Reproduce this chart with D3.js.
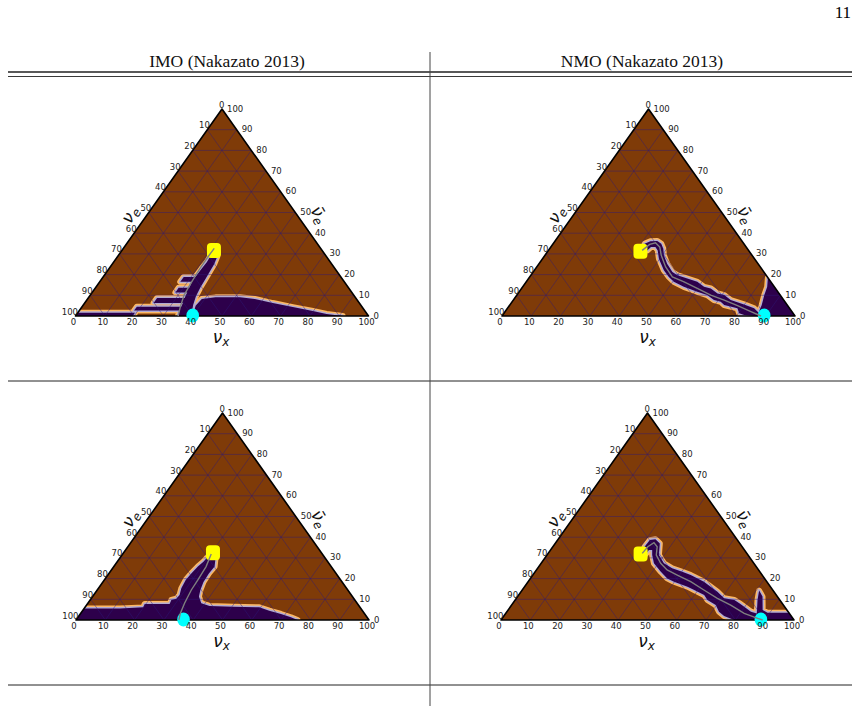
<!DOCTYPE html>
<html>
<head>
<meta charset="utf-8">
<script src="https://cdn.jsdelivr.net/npm/d3@7"></script>
<style>
body { margin: 0; background: #fff; }
</style>
</head>
<body>
<svg id="fig" width="863" height="713"></svg>
<script>
// ternary points are [nu_x, nubar_e] in percent (nu_e = 100 - both)
const ticks = [0, 10, 20, 30, 40, 50, 60, 70, 80, 90, 100]
const gridSteps = [10, 20, 30, 40, 50, 60, 70, 80, 90]
const columnTitles = ["IMO (Nakazato 2013)", "NMO (Nakazato 2013)"]
const pageNumber = "11"

// top left: IMO
const imoTopTrack = [[31, 32.7], [30.9, 27.9], [31, 23.1], [31.4, 16.8], [32, 10.1], [33.6, 4.3], [35, 0]]
const imoTopStart = [31.4, 31.7]
const imoTopEnd = [40, 0]
const imoTopRegions = [
    [[31.5, 30], [31.8, 26], [31.6, 22.6], [31.5, 19.2], [31.6, 15.9], [32.2, 12.5], [32.8, 9.1], [33.6, 5.8], [34.2, 2.9], [35, 0],
     [39.5, 0], [37.5, 5.3], [36.3, 9.6], [35.7, 13.9], [35.4, 17.8], [35.1, 21.6], [34.8, 25], [34, 28.8], [33, 31]],
    [[27.5, 16.5], [33.5, 16.5], [33.5, 18.9], [27.5, 18.9]],
    [[28.4, 11.4], [35.3, 11.4], [35.3, 13.6], [28.4, 13.6]],
    [[23.5, 6.3], [36.4, 6.3], [36.4, 8.7], [23.5, 8.7]],
    [[18.7, 2.6], [36.4, 2.6], [36.4, 4.5], [18.7, 4.5]],
    [[0, 0], [19.5, 0], [19.5, 1.6], [0, 1.6]],
    [[40, 0], [38.5, 5], [39, 8.2], [43.3, 9], [51.6, 9.1], [57.1, 8.2], [64.2, 6.25], [72, 4.3], [79.8, 2.4], [85.2, 1], [91.2, 0]]
]

// top right: NMO
const nmoTopTrack = [[32, 31.7], [33.1, 34.6], [34.7, 35.4], [37.2, 33.3], [39.7, 29.3], [44, 23.7], [48.7, 18.9], [53.9, 16.5],
    [60, 13.3], [66.2, 10.1], [72, 7.7], [77.9, 5], [83.9, 2.1], [88.4, 0]]
const nmoTopStart = [31.6, 31.3]
const nmoTopEnd = [89.5, 0]
const nmoTopRegions = [
    [[31.2, 34.9], [32.6, 36.1], [34.9, 36.2], [36.9, 34.9], [38.8, 32.5], [40.6, 29.3], [43.7, 25.3], [47.5, 21.3], [50, 19.7],
     [54.2, 18.1], [58.4, 16.5], [61.9, 14.1], [64.6, 13.3], [68.1, 10.9], [70.8, 10.1], [74.2, 7.7], [79.8, 5.6], [84.2, 3.7],
     [86.2, 2.1], [88.6, 0], [86.1, 0], [82.4, 0.5], [80.3, 1.3], [78.5, 3.7], [73.2, 5.3], [71.2, 6.9], [68.5, 7.7], [65, 10.1],
     [60.8, 11.7], [55, 14.1], [50.4, 16.5], [47.5, 18.9], [44.2, 22.1], [39.7, 27.7], [37.3, 31.7], [35.7, 33.3], [34.2, 33.3],
     [33.7, 31.7], [32.2, 32.9]],
    [[81.5, 18.5], [83.5, 14], [84.5, 10], [86, 5.3], [86.7, 2], [87.5, 0], [100, 0]]
]

// bottom left: IMO
const imoBotTrack = [[30.2, 31.9], [31.5, 25.8], [31.9, 19.3], [32.1, 14.5], [33, 8.1], [34, 3.2], [35.1, 0]]
const imoBotStart = [30.5, 32.5]
const imoBotEnd = [36.7, 0]
const imoBotRegions = [
    [[29.7, 30.6], [32.5, 30.3], [34.4, 25.8], [34.1, 22.5], [34.3, 18.4], [35.2, 14.5], [36.3, 11.3], [38.7, 8.1], [42.2, 6.8],
     [50.3, 6.4], [59.5, 6.1], [63.7, 4.5], [68.5, 2.9], [72.7, 1.3], [75.6, 0], [0, 0], [0, 5.6], [12.2, 5.6], [19.9, 6.1],
     [19.6, 7.7], [28.1, 7.7], [27.7, 9.7], [29.1, 10.3], [29.3, 12.1], [28.3, 15.3], [27.8, 19.3], [28.1, 22.5], [28.7, 25.8],
     [29.4, 28.2]]
]

// bottom right: NMO
const nmoBotTrack = [[32.1, 32.2], [32.4, 35.4], [33.5, 37.4], [35.6, 35.4], [37.3, 31.4], [40.8, 27.4], [44.6, 24.2], [49.3, 21.7],
    [55.5, 18.5], [62, 14.5], [68.6, 10.5], [74.8, 7.2], [81.4, 3.2], [87.2, 0.8], [89.3, 0]]
const nmoBotStart = [31.7, 31.9]
const nmoBotEnd = [88.7, 0]
const nmoBotRegions = [
    [[31.3, 35.4], [31.5, 38.6], [33.2, 39], [35.7, 37], [38.2, 31.4], [41.9, 27.4], [45.9, 25], [50.2, 23.3], [53.9, 21.7],
     [60, 18.5], [63.5, 16.1], [67, 13.7], [70.9, 10.5], [74.8, 9.7], [77.3, 8.1], [79.8, 6.4], [83.3, 4], [85.7, 3.2],
     [82.7, 9.7], [81, 14.2], [83.6, 11.3], [86.9, 4.8], [89.2, 3.5], [96.5, 3.5], [100, 0],
     [79.6, 0], [75.2, 1.9], [72.4, 4], [69.7, 7.2], [65.6, 9.7], [63.3, 12.1], [58.7, 14.5], [55.6, 16.1], [49.8, 18.5],
     [46.7, 20.1], [42.9, 23.3], [38.5, 27.4], [35.9, 31.4], [34.7, 33.8], [33.6, 33.8], [33.4, 31.9]]
]

const BROWN = "#7f3b08"
const PURPLE = "#2d004b"
const PEACH = "#fdb863"
const LAVENDER = "#b2abd2"
const W = 293, H = 207

const panels = [
    { x0: 75.5, base: 316, regions: imoTopRegions, track: imoTopTrack, start: imoTopStart, end: imoTopEnd },
    { x0: 502, base: 316, regions: nmoTopRegions, track: nmoTopTrack, start: nmoTopStart, end: nmoTopEnd },
    { x0: 76, base: 620, regions: imoBotRegions, track: imoBotTrack, start: imoBotStart, end: imoBotEnd },
    { x0: 501, base: 620, regions: nmoBotRegions, track: nmoBotTrack, start: nmoBotStart, end: nmoBotEnd },
]

const svg = d3.select("#fig")

function drawPage() {
    svg.append("text")
        .attr("x", 851).attr("y", 18)
        .attr("text-anchor", "end")
        .attr("font-family", "Liberation Serif")
        .attr("font-size", 17)
        .text(pageNumber)

    svg.selectAll(".ctitle")
        .data(columnTitles)
        .enter()
        .append("text")
        .attr("x", (d, i) => i == 0 ? 227 : 642)
        .attr("y", 67)
        .attr("text-anchor", "middle")
        .attr("font-family", "Liberation Serif")
        .attr("font-size", 17.5)
        .attr("fill", "#111")
        .text(d => d)

    let rules = [[72, 1.4], [76.5, 0.9], [381, 1], [685, 1]]
    rules.forEach(r => {
        svg.append("line")
            .attr("x1", 8).attr("x2", 852)
            .attr("y1", r[0]).attr("y2", r[0])
            .attr("stroke", "#222").attr("stroke-width", r[1])
    })
    svg.append("line")
        .attr("x1", 430).attr("x2", 430)
        .attr("y1", 52).attr("y2", 706)
        .attr("stroke", "#444").attr("stroke-width", 1)
}

function drawPanel(p, idx) {
    const xs = d3.scaleLinear().domain([0, 100]).range([p.x0, p.x0 + W])
    const ys = d3.scaleLinear().domain([0, 100]).range([p.base, p.base - H])
    const px = d => xs(d[0] + d[1] / 2)
    const py = d => ys(d[1])
    const line = d3.line().x(px).y(py)
    const corners = [[0, 0], [100, 0], [0, 100]]

    const g = svg.append("g")
    const clipId = "tri" + idx
    g.append("clipPath").attr("id", clipId)
        .append("path").attr("d", line(corners) + "Z")

    g.append("path").attr("d", line(corners) + "Z").attr("fill", BROWN)

    const rg = g.append("g").attr("clip-path", "url(#" + clipId + ")")
    rg.selectAll(".edge1").data(p.regions).enter().append("path")
        .attr("d", d => line(d) + "Z")
        .attr("fill", "none").attr("stroke", PEACH).attr("stroke-width", 6)
        .attr("stroke-linejoin", "round")
    rg.selectAll(".edge2").data(p.regions).enter().append("path")
        .attr("d", d => line(d) + "Z")
        .attr("fill", "none").attr("stroke", LAVENDER).attr("stroke-width", 3)
        .attr("stroke-linejoin", "round")
    rg.selectAll(".reg").data(p.regions).enter().append("path")
        .attr("d", d => line(d) + "Z")
        .attr("fill", PURPLE)

    // grid, three families
    const grid = []
    gridSteps.forEach(t => {
        grid.push([[0, t], [100 - t, t]])
        grid.push([[t, 0], [t, 100 - t]])
        grid.push([[100 - t, 0], [0, 100 - t]])
    })
    rg.selectAll(".grid").data(grid).enter().append("path")
        .attr("d", line)
        .attr("fill", "none")
        .attr("stroke", "#2d1a7a").attr("stroke-opacity", 0.55)
        .attr("stroke-width", 0.8)

    g.append("path").attr("d", line(corners) + "Z")
        .attr("fill", "none").attr("stroke", "#000").attr("stroke-width", 1.6)
        .attr("stroke-linejoin", "round")

    // markers
    g.append("rect")
        .attr("x", px(p.start) - 7).attr("y", py(p.start) - 7.5)
        .attr("width", 14).attr("height", 15).attr("rx", 4)
        .attr("fill", "#ffff00")
    g.append("ellipse")
        .attr("cx", px(p.end)).attr("cy", py(p.end) - 0.5)
        .attr("rx", 6.3).attr("ry", 7)
        .attr("fill", "#00ffff")

    g.append("path").attr("d", line(p.track))
        .attr("fill", "none").attr("stroke", "#7f7f7f").attr("stroke-width", 1.4)

    // tick labels
    const tickFont = { "font-family": "DejaVu Sans", "font-size": 8.5, "fill": "#222" }
    function styleText(sel) {
        for (const k in tickFont) sel.attr(k, tickFont[k])
        return sel
    }
    styleText(g.selectAll(".tb").data(ticks).enter().append("text")
        .attr("x", t => px([t, 0]) - 2)
        .attr("y", p.base + 9)
        .attr("text-anchor", "middle")
        .text(t => t))
    styleText(g.selectAll(".tl").data(ticks).enter().append("text")
        .attr("x", t => px([0, 100 - t]) + 2.5)
        .attr("y", t => py([0, 100 - t]) - 1.5)
        .attr("text-anchor", "end")
        .text(t => t))
    styleText(g.selectAll(".tr").data(ticks).enter().append("text")
        .attr("x", t => px([100 - t, t]) + 5)
        .attr("y", t => py([100 - t, t]) + 2.5)
        .attr("text-anchor", "start")
        .text(t => t))

    // axis labels
    const bx = g.append("text")
        .attr("x", p.x0 + W / 2 - 1).attr("y", p.base + 27)
        .attr("text-anchor", "middle")
        .attr("font-family", "DejaVu Sans").attr("font-style", "italic")
        .attr("font-size", 17).attr("fill", "#111")
    bx.append("tspan").text("\u03bd")
    bx.append("tspan").attr("font-size", 12).attr("dy", 3).text("x")

    const lx = p.x0 + 55, ly = p.base - 101
    const le = g.append("text")
        .attr("transform", "translate(" + lx + "," + ly + ") rotate(-60)")
        .attr("text-anchor", "middle").attr("y", 5)
        .attr("font-family", "DejaVu Sans").attr("font-style", "italic")
        .attr("font-size", 17).attr("fill", "#111")
    le.append("tspan").text("\u03bd")
    le.append("tspan").attr("font-size", 12).attr("dy", 3).text("e")

    const rx = p.x0 + 243, ry = p.base - 101
    const re = g.append("text")
        .attr("transform", "translate(" + rx + "," + ry + ") rotate(60)")
        .attr("text-anchor", "middle").attr("y", 5)
        .attr("font-family", "DejaVu Sans").attr("font-style", "italic")
        .attr("font-size", 17).attr("fill", "#111")
    re.append("tspan").text("\u03bd\u0304")
    re.append("tspan").attr("font-size", 12).attr("dy", 3).text("e")
}

drawPage()
panels.forEach((p, i) => drawPanel(p, i))
</script>
</body>
</html>
